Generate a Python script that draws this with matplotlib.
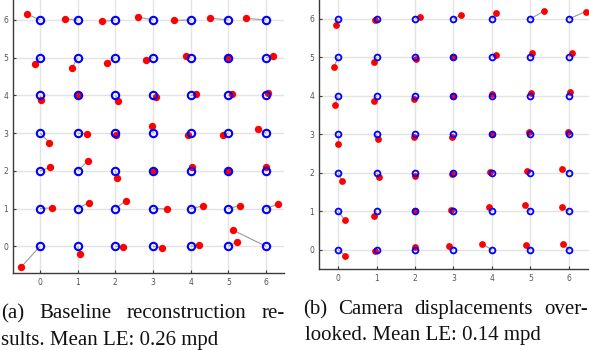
import matplotlib
matplotlib.use("Agg")
import matplotlib.pyplot as plt
import numpy as np

# Grid (ground-truth) positions
grid_vals = [0, 1, 2, 3, 4, 5, 6]
tick_vals = [0, 1, 2, 3, 4, 5, 6]

# Panel (a): estimated positions, rows y=0..6, columns x=0..6
a_est_x = [
    [-0.50, 1.07, 2.21, 3.23, 4.23, 5.24, 5.12],
    [0.32, 1.29, 2.28, 3.38, 4.33, 5.31, 6.31],
    [0.27, 1.28, 2.04, 3.02, 4.03, 5.00, 6.01],
    [0.25, 1.26, 2.03, 2.98, 3.92, 4.86, 5.80],
    [0.03, 1.00, 2.08, 3.09, 4.13, 5.09, 6.04],
    [-0.14, 0.85, 1.79, 2.81, 3.88, 5.00, 6.19],
    [-0.35, 0.66, 1.65, 2.60, 3.57, 4.52, 5.48],
]
a_est_y = [
    [-0.55, -0.21, -0.01, -0.05, 0.03, 0.12, 0.43],
    [1.02, 1.16, 1.21, 0.99, 1.07, 1.08, 1.12],
    [2.09, 2.27, 1.82, 1.99, 2.10, 1.99, 2.09],
    [2.75, 2.98, 2.96, 3.19, 2.96, 2.94, 3.12],
    [3.88, 4.00, 3.86, 3.97, 4.03, 4.05, 4.07],
    [4.82, 4.73, 4.87, 4.93, 5.04, 5.02, 5.05],
    [6.16, 6.03, 5.96, 6.08, 5.99, 6.05, 6.04],
]

# Panel (b)
b_est_x = [
    [0.19, 0.97, 2.00, 2.88, 3.73, 4.89, 5.85],
    [0.17, 0.94, 2.01, 2.94, 3.92, 4.86, 5.81],
    [0.10, 1.07, 2.00, 2.97, 3.96, 4.92, 5.81],
    [0.00, 1.03, 1.97, 2.95, 4.00, 4.95, 5.97],
    [-0.08, 0.94, 1.98, 2.99, 3.99, 5.01, 6.03],
    [-0.10, 0.94, 2.02, 3.00, 4.10, 5.03, 6.07],
    [-0.05, 0.95, 2.13, 3.20, 4.10, 5.36, 6.43],
]
b_est_y = [
    [-0.15, -0.03, 0.06, 0.10, 0.16, 0.13, 0.16],
    [0.78, 0.88, 1.00, 1.03, 1.11, 1.17, 1.10],
    [1.79, 1.89, 1.91, 1.98, 2.03, 2.05, 2.10],
    [2.76, 2.88, 2.92, 2.94, 3.00, 3.07, 3.05],
    [3.77, 3.86, 3.93, 4.00, 4.06, 4.07, 4.10],
    [4.76, 4.88, 4.95, 5.00, 5.06, 5.10, 5.10],
    [5.84, 5.96, 6.06, 6.10, 6.14, 6.21, 6.19],
]

caption_a = ["(a) Baseline reconstruction re-", "sults. Mean LE: 0.26 mpd"]
caption_b = ["(b) Camera displacements over-", "looked. Mean LE: 0.14 mpd"]

W, H = 589, 350
fig = plt.figure(figsize=(W / 100, H / 100), dpi=100)


def px_axes(left, right, bottom, top):
    return fig.add_axes([left / W, 1 - bottom / H, (right - left) / W, (bottom - top) / H])


def draw_panel(ax, ex, ey, xlim, ylim, ms_blue, mew_blue, ms_red):
    gx, gy = np.meshgrid(grid_vals, grid_vals)
    ex = np.array(ex)
    ey = np.array(ey)
    for i in range(gx.shape[0]):
        for j in range(gx.shape[1]):
            ax.plot([gx[i, j], ex[i, j]], [gy[i, j], ey[i, j]], color="#9a9a9a",
                    lw=0.8, zorder=2, solid_capstyle="butt")
    ax.plot(ex.ravel(), ey.ravel(), "o", color="#ff0000", ms=ms_red, mec="#ff0000",
            mew=0, zorder=3, linestyle="none")
    ax.plot(gx.ravel(), gy.ravel(), "o", mfc="none", mec="#0000ff", ms=ms_blue,
            mew=mew_blue, zorder=4, linestyle="none")
    ax.set_xlim(*xlim)
    ax.set_ylim(*ylim)
    ax.set_xticks(tick_vals)
    ax.set_yticks(tick_vals)
    ax.grid(True, color="#e3e3e3", lw=1.0, zorder=0)
    ax.set_axisbelow(True)
    for s in ["top", "right"]:
        ax.spines[s].set_visible(False)
    for s in ["left", "bottom"]:
        ax.spines[s].set_color("#3a3a3a")
        ax.spines[s].set_linewidth(1.0)
    ax.tick_params(direction="in", length=2.5, width=0.8, color="#3a3a3a",
                   labelsize=5.5, labelcolor="#555555", pad=3.5)


ax1 = px_axes(13, 284, 273, 0)
draw_panel(ax1, a_est_x, a_est_y, (-0.717, 6.477), (-0.708, 6.53), 5.3, 1.5, 5.3)

ax2 = px_axes(319, 589, 269, 0)
draw_panel(ax2, b_est_x, b_est_y, (-0.494, 6.52), (-0.50, 6.49), 4.2, 1.3, 4.9)

font = dict(family="Liberation Serif", size=15, color="#111111")
renderer = fig.canvas.get_renderer()


def justified(words_line, x0, x1, y_base):
    words = words_line.split(" ")
    texts = [fig.text(0, 1 - y_base / H, w, ha="left", va="baseline", **font) for w in words]
    widths = [t.get_window_extent(renderer).width for t in texts]
    gap = (x1 - x0 - sum(widths)) / (len(words) - 1)
    x = x0
    for t, w in zip(texts, widths):
        t.set_x(x / W)
        x += w + gap


def plain(line, x0, y_base):
    fig.text(x0 / W, 1 - y_base / H, line, ha="left", va="baseline", **font)


justified(caption_a[0], 1, 285, 318)
plain(caption_a[1], 1, 345)
justified(caption_b[0], 303, 588, 314)
plain(caption_b[1], 305, 340)

fig.savefig("out.png", dpi=100)
